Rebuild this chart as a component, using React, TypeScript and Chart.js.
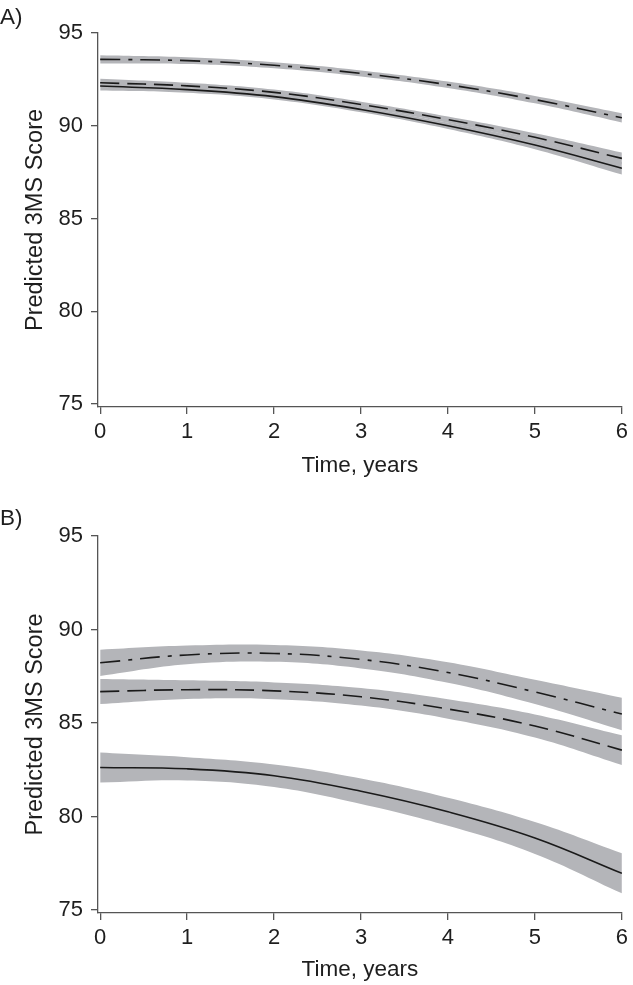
import React, { useEffect, useRef } from "react";
import { Chart, registerables } from "chart.js";

Chart.register(...registerables);

// ---- data ----
const years = [0, 1, 2, 3, 4, 5, 6];
const xTickValues = [0, 1, 2, 3, 4, 5, 6];
const yTickValues = [75, 80, 85, 90, 95];

// Panel A
const aDashDot = [93.58, 93.51, 93.26, 92.82, 92.21, 91.41, 90.43];
const aDashDotLo = [93.36, 93.33, 93.1, 92.66, 92.04, 91.21, 90.18];
const aDashDotHi = [93.8, 93.69, 93.42, 92.98, 92.38, 91.61, 90.68];
const aDashed = [92.32, 92.15, 91.8, 91.15, 90.33, 89.38, 88.24];
const aDashedLo = [92.1, 91.98, 91.65, 91.0, 90.16, 89.16, 87.92];
const aDashedHi = [92.54, 92.32, 91.95, 91.3, 90.5, 89.6, 88.56];
const aSolid = [92.14, 91.95, 91.57, 90.88, 90.0, 88.96, 87.71];
const aSolidLo = [91.9, 91.78, 91.42, 90.73, 89.83, 88.74, 87.37];
const aSolidHi = [92.38, 92.12, 91.72, 91.03, 90.17, 89.18, 88.05];

// Panel B
const bDashDot = [88.22, 88.64, 88.72, 88.4, 87.7, 86.66, 85.48];
const bDashDotLo = [87.52, 88.14, 88.27, 87.92, 87.15, 86.01, 84.61];
const bDashDotHi = [88.92, 89.14, 89.17, 88.88, 88.25, 87.31, 86.35];
const bDashed = [86.68, 86.78, 86.72, 86.4, 85.75, 84.84, 83.55];
const bDashedLo = [86.01, 86.28, 86.27, 85.93, 85.23, 84.22, 82.75];
const bDashedHi = [87.35, 87.28, 87.17, 86.87, 86.27, 85.46, 84.35];
const bSolid = [82.62, 82.55, 82.18, 81.35, 80.25, 78.85, 76.96];
const bSolidLo = [81.82, 81.93, 81.58, 80.67, 79.5, 78.0, 75.89];
const bSolidHi = [83.42, 83.17, 82.78, 82.03, 81.0, 79.7, 78.03];

const FONT = '"Liberation Sans", Arial, Helvetica, sans-serif';
const AXIS = "#555555";
const TEXT = "#1e1e1e";
const BAND = "#b4b5b9";
const LINE = "#1a1a1a";
const DASH = [19, 8];
const DASHDOT = [20, 8, 4, 8];

type Series = { mid: number[]; lo: number[]; hi: number[]; dash: number[] };

function pts(ys: number[]) {
  return years.map((x, i) => ({ x, y: ys[i] }));
}

function buildDatasets(series: Series[]) {
  const bands: any[] = [];
  const lines: any[] = [];
  series.forEach((s) => {
    bands.push({
      data: pts(s.hi),
      borderColor: "transparent",
      borderWidth: 0,
      backgroundColor: BAND,
      pointRadius: 0,
      fill: "+1",
      tension: 0.4,
      order: 2,
    });
    bands.push({
      data: pts(s.lo),
      borderColor: "transparent",
      borderWidth: 0,
      backgroundColor: BAND,
      pointRadius: 0,
      fill: false,
      tension: 0.4,
      order: 2,
    });
    lines.push({
      data: pts(s.mid),
      borderColor: LINE,
      borderWidth: 1.6,
      borderDash: s.dash,
      pointRadius: 0,
      fill: false,
      tension: 0.4,
      order: 1,
    });
  });
  return [...bands, ...lines];
}

type PanelProps = {
  label: string;
  series: Series[];
  width: number;
  height: number;
  titleTop: number;
  titleBottom: number;
  xAxisHeight: number;
  xTitleBottom: number;
};

function Panel(p: PanelProps) {
  const ref = useRef<HTMLCanvasElement | null>(null);
  useEffect(() => {
    if (!ref.current) return;
    const font = (size: number) => ({ family: FONT, size, weight: "normal" as const });
    const chart = new Chart(ref.current, {
      type: "line",
      data: { datasets: buildDatasets(p.series) },
      options: {
        animation: false,
        responsive: false,
        layout: { padding: 0 },
        plugins: {
          legend: { display: false },
          tooltip: { enabled: false },
          filler: { drawTime: "beforeDatasetsDraw" } as any,
          title: {
            display: true,
            text: p.label,
            align: "start",
            color: TEXT,
            font: font(22.5),
            padding: { top: p.titleTop, bottom: p.titleBottom },
          },
        },
        scales: {
          x: {
            type: "linear",
            min: -0.025,
            max: 6,
            afterBuildTicks: (s: any) => {
              s.ticks = xTickValues.map((v) => ({ value: v }));
            },
            afterFit: (s: any) => {
              s.height = p.xAxisHeight;
            },
            ticks: { color: TEXT, font: font(22), padding: 5, includeBounds: false, maxRotation: 0 },
            grid: { drawOnChartArea: false, drawTicks: true, tickLength: 7, color: AXIS, lineWidth: 1.3 },
            border: { display: true, color: AXIS, width: 1.3 },
            title: {
              display: true,
              text: "Time, years",
              color: TEXT,
              font: font(22.5),
              padding: { top: 0, bottom: p.xTitleBottom },
            },
          },
          y: {
            type: "linear",
            min: 74.84,
            max: 95,
            afterBuildTicks: (s: any) => {
              s.ticks = yTickValues.map((v) => ({ value: v }));
            },
            afterFit: (s: any) => {
              s.width = 98;
            },
            ticks: { color: TEXT, font: font(22), padding: 8, includeBounds: false },
            grid: { drawOnChartArea: false, drawTicks: true, tickLength: 7, color: AXIS, lineWidth: 1.3 },
            border: { display: true, color: AXIS, width: 1.3 },
            title: {
              display: true,
              text: "Predicted 3MS Score",
              color: TEXT,
              font: font(23.5),
              padding: { top: 21, bottom: 0 },
            },
          },
        },
      } as any,
    });
    return () => chart.destroy();
  }, []);
  return <canvas ref={ref} width={p.width} height={p.height} style={{ display: "block" }} />;
}

export default function App() {
  const seriesA: Series[] = [
    { mid: aDashDot, lo: aDashDotLo, hi: aDashDotHi, dash: DASHDOT },
    { mid: aDashed, lo: aDashedLo, hi: aDashedHi, dash: DASH },
    { mid: aSolid, lo: aSolidLo, hi: aSolidHi, dash: [] },
  ];
  const seriesB: Series[] = [
    { mid: bDashDot, lo: bDashDotLo, hi: bDashDotHi, dash: DASHDOT },
    { mid: bDashed, lo: bDashedLo, hi: bDashedHi, dash: DASH },
    { mid: bSolid, lo: bSolidLo, hi: bSolidHi, dash: [] },
  ];
  return (
    <div style={{ position: "absolute", left: 0, top: 0, width: 633, height: 985, background: "#fff" }}>
      <Panel
        label="A)"
        series={seriesA}
        width={633}
        height={492}
        titleTop={4}
        titleBottom={2}
        xAxisHeight={85}
        xTitleBottom={12.5}
      />
      <Panel
        label="B)"
        series={seriesB}
        width={633}
        height={493}
        titleTop={13}
        titleBottom={4}
        xAxisHeight={72}
        xTitleBottom={1.5}
      />
    </div>
  );
}
